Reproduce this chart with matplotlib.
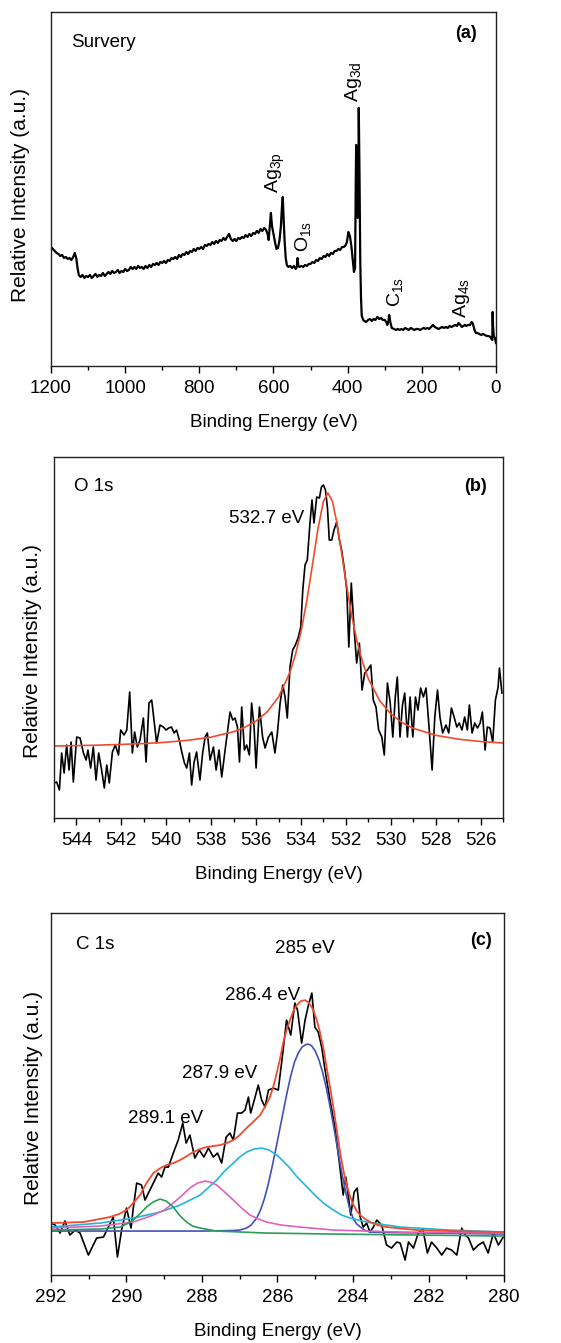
import matplotlib
matplotlib.use('Agg')
import matplotlib.pyplot as plt
from matplotlib.ticker import MultipleLocator

plt.rcParams['font.family'] = ['Liberation Sans', 'DejaVu Sans']
plt.rcParams['mathtext.fontset'] = 'custom'
plt.rcParams['mathtext.rm'] = 'Liberation Sans'
plt.rcParams['mathtext.it'] = 'Liberation Sans'

# ---------------- (a) survey ----------------
survey_E = [1200,1195,1190,1185,1180,1175,1170,1165,1160,1155,1150,1145,1140,1136,1132,1128,1125,1120,1115,1110,
            1105,1100,1095,1090,1085,1080,1075,1070,1065,1060,1055,1050,1045,1040,1035,1030,1025,1020,1015,1010,
            1005,1000,995,990,985,980,975,970,965,960,955,950,945,940,935,930,925,920,915,910,
            905,900,895,890,885,880,875,870,865,860,855,850,845,840,835,830,825,820,815,810,
            805,800,795,790,785,780,775,770,765,760,755,750,745,740,735,730,725,720,715,710,
            705,700,695,690,685,680,675,670,665,660,655,650,645,640,635,630,625,620,616,613,
            610,607,604,600,596,592,588,584,580,577,575,573,570,567,564,560,555,550,545,540,
            537,535,533,530,525,520,515,510,505,500,495,490,485,480,475,470,465,460,455,450,
            445,440,435,430,425,420,415,410,405,402,398,394,390,386,383,380,378,377,375,373,
            371,370,368,366,364,362,358,355,350,345,340,335,330,325,320,315,310,305,300,296,
            293,290,288,285,281,275,270,265,260,255,250,245,240,235,230,225,220,215,210,205,
            200,195,190,185,180,175,170,165,160,155,150,145,140,135,130,125,120,115,110,105,
            101,96,92,88,84,80,75,70,66,63,60,57,54,50,45,40,35,30,25,20,
            15,12,10,9,8,6,3,0]
survey_I = [119,117,115,113,112,110,111,108,109,107,108,106,109,113,108,97,91,89,91,88,
            90,89,91,88,90,92,89,91,90,93,90,92,94,92,95,93,94,96,93,95,
            94,97,95,96,99,97,99,97,100,98,99,97,100,98,101,99,102,101,103,101,
            104,103,105,103,106,105,108,107,109,107,111,109,112,111,114,112,115,114,117,115,
            118,117,119,117,121,120,122,121,124,122,125,123,126,125,128,126,129,132,127,125,
            127,125,128,127,129,128,131,129,132,130,133,132,135,133,137,135,138,136,132,126,
            140,153,140,132,124,117,118,125,140,160,169,150,125,108,101,99,100,98,100,97,
            99,108,100,99,100,99,101,100,102,102,104,103,106,105,108,107,110,109,112,110,
            113,112,115,115,117,116,119,119,121,124,134,130,120,105,94,98,190,221,170,148,
            195,258,190,105,68,50,46,45,44,46,47,45,47,46,49,47,48,46,46,44,
            41,45,51,44,38,37,36,37,36,37,36,38,37,36,38,37,36,37,37,36,
            37,38,37,38,37,39,41,39,38,37,38,39,38,39,38,40,39,40,41,40,
            43,41,39,40,41,40,41,41,44,43,39,35,33,33,32,31,32,31,30,30,
            29,27,26,54,40,30,28,23]

survey_labels = [r'Ag$_{\mathrm{3p}}$', r'O$_{\mathrm{1s}}$', r'Ag$_{\mathrm{3d}}$', r'C$_{\mathrm{1s}}$', r'Ag$_{\mathrm{4s}}$']
survey_label_E = [596, 520, 385.5, 272, 94]
survey_label_I = [173, 114, 264, 59, 48]

# ---------------- (b) O 1s ----------------
o1s_E = [545.00,544.88,544.76,544.66,544.55,544.44,544.33,544.24,544.14,543.99,
         543.84,543.69,543.57,543.49,543.37,543.25,543.13,543.01,542.88,542.76,
         542.65,542.54,542.40,542.27,542.13,542.03,541.88,541.76,541.63,541.51,
         541.41,541.29,541.17,541.02,540.90,540.77,540.65,540.53,540.43,540.28,
         540.13,540.01,539.89,539.77,539.65,539.54,539.42,539.31,539.19,539.09,
         538.97,538.87,538.76,538.65,538.50,538.38,538.27,538.17,538.05,537.90,
         537.78,537.65,537.53,537.38,537.28,537.16,537.04,536.94,536.83,536.74,
         536.64,536.52,536.42,536.30,536.20,536.09,536.00,535.85,535.71,535.60,
         535.45,535.30,535.16,535.05,534.93,534.81,534.71,534.61,534.49,534.37,
         534.25,534.13,534.01,533.92,533.82,533.72,533.60,533.51,533.42,533.30,
         533.18,533.09,533.00,532.91,532.82,532.74,532.63,532.53,532.41,532.29,
         532.19,532.08,531.96,531.87,531.76,531.64,531.52,531.40,531.28,531.16,
         531.04,530.89,530.78,530.66,530.54,530.40,530.29,530.15,530.03,529.91,
         529.80,529.71,529.59,529.48,529.38,529.26,529.14,529.02,528.90,528.79,
         528.67,528.55,528.43,528.31,528.16,528.04,527.92,527.81,527.69,527.54,
         527.42,527.30,527.18,527.06,526.95,526.83,526.71,526.59,526.50,526.38,
         526.26,526.14,526.02,525.92,525.80,525.70,525.58,525.46,525.34,525.22,
         525.16,525.05]
o1s_I = [35,36,28,65,45,73,48,76,36,81,
         80,65,58,68,50,71,38,65,48,30,
         53,35,66,73,63,88,83,88,126,65,
         86,71,78,100,56,115,118,95,75,93,
         91,88,90,91,85,88,78,66,55,50,
         65,33,56,66,38,65,81,85,58,71,
         48,68,41,68,85,106,98,100,91,56,
         111,68,73,63,115,91,50,111,81,70,
         81,86,65,85,115,133,121,100,151,168,
         173,180,191,228,253,258,295,318,295,321,
         320,331,333,328,310,278,278,288,296,278,
         268,251,228,171,235,191,155,175,128,145,
         148,153,118,111,88,81,63,135,116,81,
         121,141,81,113,125,81,121,81,121,108,
         130,121,130,95,48,101,128,101,85,93,
         85,110,101,91,95,88,101,88,113,85,
         95,90,95,106,68,91,90,76,118,131,
         150,125]
o1s_fit_E = [545,544,543,542,541,540,539,538,537,536.5,536,535.5,535,534.5,534.25,534,533.75,533.5,533.25,
             533,532.8,532.6,532.4,532.2,532,531.75,531.5,531.25,531,530.5,530,529.5,529,528,527,526,525]
o1s_fit_I = [72,72.4,72.9,73.6,74.5,75.8,77.8,80.9,86.3,90.7,97,106.3,121,145.2,163.1,186.4,216,251.5,288.5,
             316.8,325,316.8,295.2,266.5,236.8,203.4,176.4,155.4,139.3,117.5,104.1,95.5,89.7,82.7,78.9,76.5,75]

# ---------------- (c) C 1s ----------------
c1s_E = [292.00,291.89,291.76,291.63,291.50,291.36,291.23,291.01,290.79,290.61,
         290.48,290.35,290.24,290.13,290.00,289.88,289.82,289.73,289.60,289.51,
         289.38,289.25,289.16,289.07,288.98,288.89,288.76,288.63,288.51,288.42,
         288.32,288.19,288.07,287.95,287.83,287.70,287.59,287.48,287.36,287.26,
         287.17,287.06,286.95,286.86,286.77,286.71,286.60,286.51,286.42,286.33,
         286.24,286.11,285.98,285.86,285.76,285.65,285.54,285.47,285.36,285.27,
         285.18,285.09,285.01,284.92,284.83,284.74,284.61,284.48,284.36,284.26,
         284.19,284.12,284.06,283.97,283.89,283.81,283.73,283.64,283.55,283.46,
         283.37,283.24,283.11,282.98,282.84,282.75,282.62,282.53,282.40,282.27,
         282.15,282.03,281.92,281.78,281.65,281.52,281.39,281.25,281.12,281.03,
         280.94,280.81,280.68,280.55,280.42,280.28,280.15,280.02]
c1s_I = [52,50,42,54,40,45,42,20,37,38,
         48,58,18,45,67,47,67,92,90,75,
         85,95,102,98,108,108,122,135,152,132,
         140,117,125,118,127,118,122,112,138,142,
         135,162,162,165,178,162,177,190,175,168,
         185,187,185,222,255,240,272,265,232,255,
         270,282,248,243,228,205,175,148,112,80,
         98,78,60,83,87,58,48,52,43,48,
         55,50,30,27,33,32,15,33,27,42,
         46,22,33,27,20,27,25,20,47,40,
         37,25,30,33,22,42,30,38]

c1s_env_E = [292,291.14,290.44,290.2,290.0,289.82,289.64,289.47,289.29,289.1,288.94,288.75,288.58,288.4,288.23,
             288.05,287.88,287.7,287.52,287.35,287.17,287.0,286.82,286.65,286.46,286.32,286.2,286.1,286.02,
             285.93,285.85,285.76,285.67,285.58,285.49,285.38,285.27,285.16,285.05,284.96,284.87,284.78,
             284.7,284.61,284.52,284.43,284.34,284.25,284.17,284.08,283.99,283.9,283.81,283.68,283.55,
             283.35,283.11,282.31,281.43,280]
c1s_env_I = [52,53,58,61,65,72,80,92,102,107,110,112,115,119,123,
             126,128,129,130,132,135,140,147,153,160,169,178,190,202,
             217,232,245,255,264,270,274,275,272,265,255,242,226,
             208,188,168,145,122,104,90,79,70,64,60,56,53,
             50,48,45,44,43]

peak_names = ['285.2', '286.4', '287.9', '289.1']
peak_colors = ['#4352B5', '#21B6DA', '#E061BD', '#2B9E55']
blue_E = [292,290,288,287.2,287.0,286.82,286.7,286.55,286.45,286.35,286.25,286.15,286.05,285.95,285.85,
          285.75,285.65,285.55,285.45,285.35,285.25,285.18,285.1,285.0,284.9,284.8,284.7,284.6,284.5,
          284.4,284.3,284.2,284.1,284.0,283.9,283.8,283.7,283.55,283.0,282,281,280]
blue_I = [44,44,44,44.5,45,47,50,57,65,76,90,107,125,144,163,
          182,199,213,222,228,230.5,231,229.5,224,215,202,186,167,146,
          124,103,84,68,57,51,48,45,43,42.5,42,41.5,41]
cyan_E = [292,290.7,289.82,289.11,288.58,288.05,287.61,287.4,287.17,287.0,286.82,286.62,286.42,286.22,
          286.02,285.85,285.67,285.5,285.32,285.14,284.96,284.75,284.52,284.3,284.08,283.64,282.75,281.43,280]
cyan_I = [48,52,57,63,70,80,95,104,112,118,123,126,127,125,
          120,114,107,99,92,85,78,71,65,60,57,53,48,45,43]
pink_E = [292,290.7,289.82,289.29,289.0,288.76,288.55,288.32,288.12,287.92,287.78,287.61,287.4,287.17,
          286.95,286.73,286.5,286.29,285.9,285.4,284.52,282.75,280]
pink_I = [47,49,53,60,65,72,79,87,92,94,93,90,83,75,
          67,60,56,53,50,48,45,43,42]
green_E = [292,290.7,290.17,290.0,289.82,289.65,289.47,289.3,289.11,288.95,288.76,288.6,288.41,288.25,
           288.05,287.61,286.29,284.52,280]
green_I = [45,46,48,51,55,61,68,73,76,74,68,60,53,49,
           47,44,42,41,39]

c1s_label_text = ['285 eV', '286.4 eV', '287.9 eV', '289.1 eV']
c1s_label_E = [285.27, 285.40, 286.54, 287.97]
c1s_label_I = [327, 280, 202, 157]
c1s_label_ha = ['center', 'right', 'right', 'right']

# ---------------- figure ----------------
fig = plt.figure(figsize=(5.61, 13.43), dpi=100)
axa = fig.add_axes([0.0909, 0.7275, 0.7932, 0.2636])
axb = fig.add_axes([0.0963, 0.3909, 0.8004, 0.2688])
axc = fig.add_axes([0.0909, 0.0506, 0.8075, 0.2695])

def style(ax, major, minor):
    ax.set_yticks([])
    ax.xaxis.set_major_locator(MultipleLocator(major))
    ax.xaxis.set_minor_locator(MultipleLocator(minor))
    ax.tick_params(axis='x', which='major', direction='out', length=5, width=1, labelsize=13.5, pad=5)
    ax.tick_params(axis='x', which='minor', direction='out', length=3, width=1)
    for s in ax.spines.values():
        s.set_linewidth(1.0)
        s.set_color('#222222')
    ax.set_xlabel('Binding Energy (eV)', fontsize=13.5, labelpad=12.5)
    ax.set_ylabel('Relative Intensity (a.u.)', fontsize=15)

# (a)
axa.plot(survey_E, survey_I, color='black', lw=1.6)
axa.set_xlim(1200, 0)
axa.set_ylim(0, 354)
style(axa, 200, 100)
axa.yaxis.set_label_coords(-0.047, 0.483)
for t, e, i in zip(survey_labels, survey_label_E, survey_label_I):
    axa.text(e, i, t, rotation=90, ha='center', va='bottom', fontsize=14)
axa.text(0.045, 0.915, 'Survery', transform=axa.transAxes, fontsize=13.5, va='center', ha='left')
axa.text(0.957, 0.94, '(a)', transform=axa.transAxes, fontsize=13, fontweight='bold', va='center', ha='right')

# (b)
axb.plot(o1s_E, o1s_I, color='black', lw=1.2)
axb.plot(o1s_fit_E, o1s_fit_I, color='#F04A30', lw=1.2)
axb.set_xlim(545, 525)
axb.set_ylim(0, 361)
style(axb, 2, 1)
axb.yaxis.set_label_coords(-0.027, 0.463)
axb.text(533.85, 300, '532.7 eV', ha='right', va='center', fontsize=13.5)
axb.text(0.045, 0.917, 'O 1s', transform=axb.transAxes, fontsize=13.5, va='center', ha='left')
axb.text(0.964, 0.917, '(b)', transform=axb.transAxes, fontsize=13, fontweight='bold', va='center', ha='right')

# (c)
axc.plot(c1s_E, c1s_I, color='black', lw=1.2)
for (ee, ii), col in zip([(blue_E, blue_I), (cyan_E, cyan_I), (pink_E, pink_I), (green_E, green_I)], peak_colors):
    axc.plot(ee, ii, color=col, lw=1.2)
axc.plot(c1s_env_E, c1s_env_I, color='#F04A30', lw=1.3)
axc.set_xlim(292, 280)
axc.set_ylim(0, 362)
style(axc, 2, 1)
axc.yaxis.set_label_coords(-0.018, 0.489)
for t, e, i, h in zip(c1s_label_text, c1s_label_E, c1s_label_I, c1s_label_ha):
    axc.text(e, i, t, ha=h, va='center', fontsize=13.5)
axc.text(0.055, 0.912, 'C 1s', transform=axc.transAxes, fontsize=13.5, va='center', ha='left')
axc.text(0.973, 0.923, '(c)', transform=axc.transAxes, fontsize=13, fontweight='bold', va='center', ha='right')

fig.savefig('out.png', dpi=100)
